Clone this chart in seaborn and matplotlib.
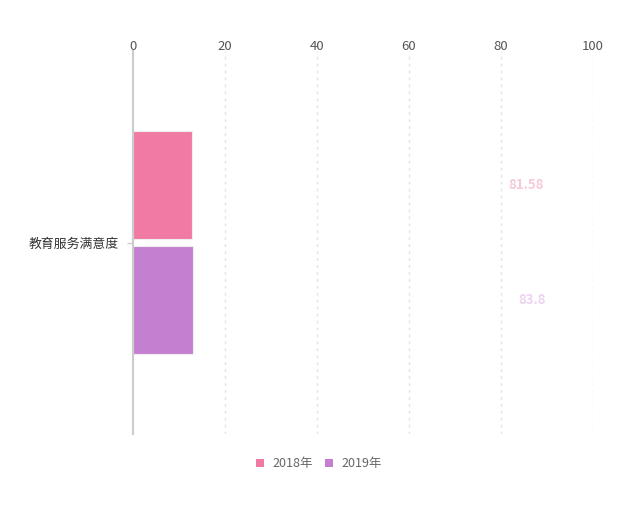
import matplotlib
matplotlib.use("Agg")
import matplotlib.pyplot as plt
import seaborn as sns
import pandas as pd
from matplotlib.patches import Patch

# ---- data ----
categories = ["教育服务满意度"]
years = ["2018年", "2019年"]
values = [81.58, 83.8]            # label values
drawn_lengths = [12.9, 13.15]     # bar lengths as drawn in the reference (mid-animation)
x_ticks = [0, 20, 40, 60, 80, 100]

bar_colors = ["#f07aa3", "#c47fd1"]
label_colors = ["#f7cad9", "#edd3f0"]

sns.set_theme(style="white")
plt.rcParams['font.family'] = ['Noto Sans CJK SC', 'DejaVu Sans']

W, H = 639, 526
fig = plt.figure(figsize=(W / 100, H / 100), dpi=100)
left, right, top, bottom = 133, 593, 51, 434
ax = fig.add_axes([left / W, 1 - bottom / H, (right - left) / W, (bottom - top) / H])

df = pd.DataFrame({
    "cat": [categories[0]] * len(years),
    "year": years,
    "val": drawn_lengths,
})
sns.barplot(data=df, y="cat", x="val", hue="year", palette=bar_colors,
            orient="h", width=0.6, gap=0.065, ax=ax, legend=False,
            edgecolor="#eeeeee", linewidth=0.8, saturation=1)

ax.set_xlim(0, 100)
ax.set_ylim(0.5, -0.5)
ax.set_xticks(x_ticks)
ax.xaxis.tick_top()
ax.tick_params(axis="x", length=0, pad=-1.5, labelsize=9.5, labelcolor="#555555")
ax.tick_params(axis="y", length=4, width=1, color="#cccccc", pad=6,
               labelsize=9.3, labelcolor="#333333", left=True)
ax.set_xlabel("")
ax.set_ylabel("")
for t in x_ticks[1:]:
    ax.axvline(t, color="#e3e3e3", lw=1, ls=(0, (2, 3)), zorder=0)
for s in ["top", "right", "bottom"]:
    ax.spines[s].set_visible(False)
ax.spines["left"].set_color("#cccccc")
ax.spines["left"].set_linewidth(1.5)

# value labels at the data values
for p, v, c in zip(ax.patches, values, label_colors):
    yc = p.get_y() + p.get_height() / 2
    ax.text(v, yc, f"{v:g}", color=c, fontsize=9.5, fontweight="bold",
            va="center", ha="left")

handles = [Patch(facecolor=c, edgecolor="none") for c in bar_colors]
fig.legend(handles, years, loc="center", bbox_to_anchor=(319 / W, 1 - 464 / H),
           ncol=2, frameon=False, fontsize=9, labelcolor="#666666",
           handlelength=0.6, handleheight=0.6, handletextpad=0.7, columnspacing=1.0)

fig.savefig("out.png", dpi=100)
